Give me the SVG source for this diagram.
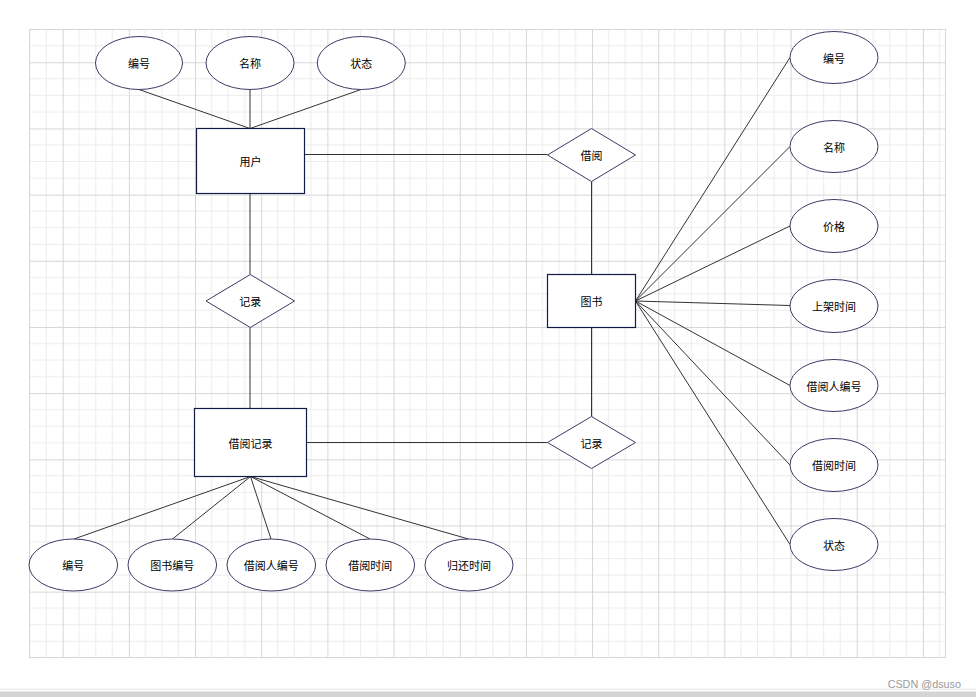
<svg xmlns="http://www.w3.org/2000/svg" width="976" height="697" viewBox="0 0 976 697">
<defs>
<pattern id="grid" patternUnits="userSpaceOnUse" x="-3.47" y="-3.9" width="66.17" height="66.17">
<path d="M16.54 0V66.17M33.08 0V66.17M49.63 0V66.17M0 16.54H66.17M0 33.08H66.17M0 49.63H66.17" stroke="#ececec" stroke-width="1" fill="none"/>
<path d="M0.5 0V66.17M0 0.5H66.17" stroke="#d6d6d6" stroke-width="1" fill="none"/>
</pattern>
</defs>
<style>
.attr{fill:#fff;stroke:#3b3b66;stroke-width:1}
.ent{fill:#fff;stroke:#121a45;stroke-width:1.2}
.rel{fill:#fff;stroke:#3b3b66;stroke-width:1}
.lbl{font-family:"Noto Sans CJK SC","Noto Sans",sans-serif;font-size:11px;fill:#000;text-anchor:middle;dominant-baseline:central}
#connectors line{stroke:#333;stroke-width:1}
</style>
<rect x="0" y="0" width="976" height="697" fill="#fff"/>
<rect x="29.5" y="29.5" width="916" height="628" fill="url(#grid)" stroke="#d6d6d6" stroke-width="1"/>
<rect x="0" y="688.5" width="976" height="1.5" fill="#ececec"/>
<rect x="0" y="691.5" width="976" height="5.5" fill="#d4d4d4"/>
<text x="961" y="687.5" font-family="Liberation Sans, Arial, sans-serif" font-size="10.8" fill="#9a9a9a" text-anchor="end">CSDN @dsuso</text>

<g id="connectors">
<line x1="139" y1="89.5" x2="250" y2="128.5"/>
<line x1="250" y1="89.5" x2="250" y2="128.5"/>
<line x1="361" y1="89.5" x2="250" y2="128.5"/>
<line x1="304.5" y1="154.5" x2="547.5" y2="154.5"/>
<line x1="250" y1="193.5" x2="250" y2="274.5"/>
<line x1="250" y1="327.5" x2="250" y2="408.5"/>
<line x1="591.5" y1="181.5" x2="591.5" y2="274.5"/>
<line x1="591.5" y1="327.5" x2="591.5" y2="416.5"/>
<line x1="306.5" y1="442.5" x2="547.5" y2="442.5"/>
<line x1="250.5" y1="476.5" x2="74" y2="539"/>
<line x1="250.5" y1="476.5" x2="172.5" y2="539"/>
<line x1="250.5" y1="476.5" x2="271" y2="539"/>
<line x1="250.5" y1="476.5" x2="370" y2="539"/>
<line x1="250.5" y1="476.5" x2="468.5" y2="539"/>
<line x1="635.5" y1="301" x2="790" y2="57.5"/>
<line x1="635.5" y1="301" x2="790" y2="146.5"/>
<line x1="635.5" y1="301" x2="790" y2="226"/>
<line x1="635.5" y1="301" x2="790" y2="305.5"/>
<line x1="635.5" y1="301" x2="790" y2="385.5"/>
<line x1="635.5" y1="301" x2="790" y2="465"/>
<line x1="635.5" y1="301" x2="790" y2="544.5"/>
</g>

<g id="user">
<rect class="ent" x="196.5" y="128.5" width="108" height="65"/>
<text class="lbl" x="250.5" y="161">用户</text>
</g>
<g id="user-id">
<ellipse class="attr" cx="139" cy="63" rx="43.5" ry="26.5"/>
<text class="lbl" x="139" y="63">编号</text>
</g>
<g id="user-name">
<ellipse class="attr" cx="250" cy="63" rx="44" ry="26.5"/>
<text class="lbl" x="250" y="63">名称</text>
</g>
<g id="user-status">
<ellipse class="attr" cx="361.3" cy="63" rx="44" ry="26.5"/>
<text class="lbl" x="361.3" y="63">状态</text>
</g>

<g id="rel-borrow">
<polygon class="rel" points="591.5,128.5 635.5,155 591.5,181.5 547.5,155"/>
<text class="lbl" x="591.5" y="155">借阅</text>
</g>
<g id="rel-record-left">
<polygon class="rel" points="250.3,274.5 294.5,301 250.3,327.5 206,301"/>
<text class="lbl" x="250.3" y="301">记录</text>
</g>
<g id="rel-record-right">
<polygon class="rel" points="591.5,416.5 635.5,442.5 591.5,468.5 547.5,442.5"/>
<text class="lbl" x="591.5" y="442.5">记录</text>
</g>

<g id="book">
<rect class="ent" x="547.5" y="274.5" width="88" height="53"/>
<text class="lbl" x="591.5" y="301">图书</text>
</g>
<g id="book-id">
<ellipse class="attr" cx="834" cy="57.5" rx="44" ry="26"/>
<text class="lbl" x="834" y="57.5">编号</text>
</g>
<g id="book-name">
<ellipse class="attr" cx="834" cy="146.5" rx="44" ry="26"/>
<text class="lbl" x="834" y="146.5">名称</text>
</g>
<g id="book-price">
<ellipse class="attr" cx="834" cy="226" rx="44" ry="26.5"/>
<text class="lbl" x="834" y="226">价格</text>
</g>
<g id="book-shelf-time">
<ellipse class="attr" cx="834" cy="306" rx="44" ry="26.5"/>
<text class="lbl" x="834" y="306">上架时间</text>
</g>
<g id="book-borrower-id">
<ellipse class="attr" cx="834" cy="385.5" rx="44" ry="26"/>
<text class="lbl" x="834" y="385.5">借阅人编号</text>
</g>
<g id="book-borrow-time">
<ellipse class="attr" cx="834" cy="465" rx="44" ry="26.5"/>
<text class="lbl" x="834" y="465">借阅时间</text>
</g>
<g id="book-status">
<ellipse class="attr" cx="834" cy="544.5" rx="44" ry="26"/>
<text class="lbl" x="834" y="544.5">状态</text>
</g>

<g id="borrow-record">
<rect class="ent" x="194.5" y="408.5" width="112" height="68"/>
<text class="lbl" x="250.5" y="442.5">借阅记录</text>
</g>
<g id="rec-id">
<ellipse class="attr" cx="73.3" cy="565" rx="44.3" ry="26"/>
<text class="lbl" x="73.3" y="565">编号</text>
</g>
<g id="rec-book-id">
<ellipse class="attr" cx="172.3" cy="565" rx="44.3" ry="26"/>
<text class="lbl" x="172.3" y="565">图书编号</text>
</g>
<g id="rec-borrower-id">
<ellipse class="attr" cx="271.3" cy="565" rx="44.3" ry="26"/>
<text class="lbl" x="271.3" y="565">借阅人编号</text>
</g>
<g id="rec-borrow-time">
<ellipse class="attr" cx="370.3" cy="565" rx="44.3" ry="26"/>
<text class="lbl" x="370.3" y="565">借阅时间</text>
</g>
<g id="rec-return-time">
<ellipse class="attr" cx="469" cy="565" rx="44" ry="26"/>
<text class="lbl" x="469" y="565">归还时间</text>
</g>
</svg>
